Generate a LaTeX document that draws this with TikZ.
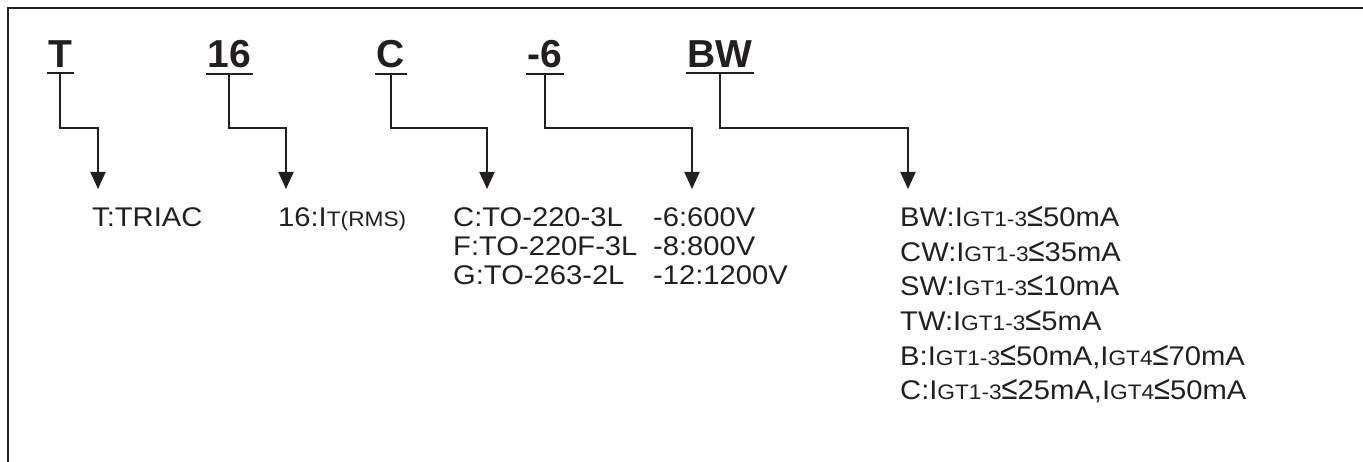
\documentclass[tikz,border=0pt]{standalone}
\usepackage{fontspec}
\usepackage{graphicx}
\setmainfont{Liberation Sans}
\newfontfamily\bodyfont{Liberation Sans}[FakeStretch=1.08]
\usetikzlibrary{arrows.meta}
\definecolor{ink}{RGB}{35,31,32}
\newcommand\smc[1]{{\fontsize{21}{21}\selectfont #1}}
\newcommand\myle{\scalebox{1}[1.25]{≤}}
\begin{document}
\begin{tikzpicture}[x=1pt,y=-1pt,
  head/.style={font=\fontsize{39}{39}\selectfont\bfseries, inner xsep=1.5pt, inner ysep=5pt, anchor=base west, text=ink},
  lab/.style={font=\bodyfont\fontsize{27}{27}\selectfont, inner sep=0pt, anchor=base west, text=ink},
  conn/.style={draw=ink, line width=2pt, -{Triangle[length=17pt,width=15pt]}},
  uline/.style={draw=ink, line width=2pt},
  frame/.style={draw=ink, line width=2pt}]
\useasboundingbox (0,0) rectangle (1363,462);
\draw[frame] (8,462) -- (8,8) -- (1363,8);
% headings
\node[head] (hT) at (46.5,68) {T};
\node[head] (h16) at (206,68) {16};
\node[head] (hC) at (375,68) {C};
\node[head] (h6) at (526,68) {-6};
\node[head] (hBW) at (686,68) {BW};
\foreach \n in {hT,h16,hC,h6,hBW}
  \draw[uline] (\n.south west) -- (\n.south east);
% arrow ends
\coordinate (aT) at (98,189);
\coordinate (a16) at (286,189);
\coordinate (aC) at (487,189);
\coordinate (a6) at (692,189);
\coordinate (aBW) at (908,189);
\foreach \h/\a in {hT/aT,h16/a16,hC/aC,h6/a6,hBW/aBW}
  \draw[conn] (\h.south) |- (\a |- 0,128) -- (\a);
% labels
\node[lab] (tT) at (92,227) {T:TRIAC};
\node[lab] (t16) at (278,227) {16:I\smc{T(RMS)}};
\node[lab] (tC1) at (453,227) {C:TO-220-3L};
\node[lab] (tC2) at (453,256) {F:TO-220F-3L};
\node[lab] (tC3) at (453,285) {G:TO-263-2L};
\node[lab] (tV1) at (653,227) {-6:600V};
\node[lab] (tV2) at (653,256) {-8:800V};
\node[lab] (tV3) at (653,285) {-12:1200V};
\node[lab] (tG1) at (900,227) {BW:I\smc{GT1-3}\myle50mA};
\node[lab] (tG2) at (900,261.5) {CW:I\smc{GT1-3}\myle35mA};
\node[lab] (tG3) at (900,296) {SW:I\smc{GT1-3}\myle10mA};
\node[lab] (tG4) at (900,330.5) {TW:I\smc{GT1-3}\myle5mA};
\node[lab] (tG5) at (900,365) {B:I\smc{GT1-3}\myle50mA,I\smc{GT4}\myle70mA};
\node[lab] (tG6) at (900,399.5) {C:I\smc{GT1-3}\myle25mA,I\smc{GT4}\myle50mA};
\end{tikzpicture}
\end{document}
